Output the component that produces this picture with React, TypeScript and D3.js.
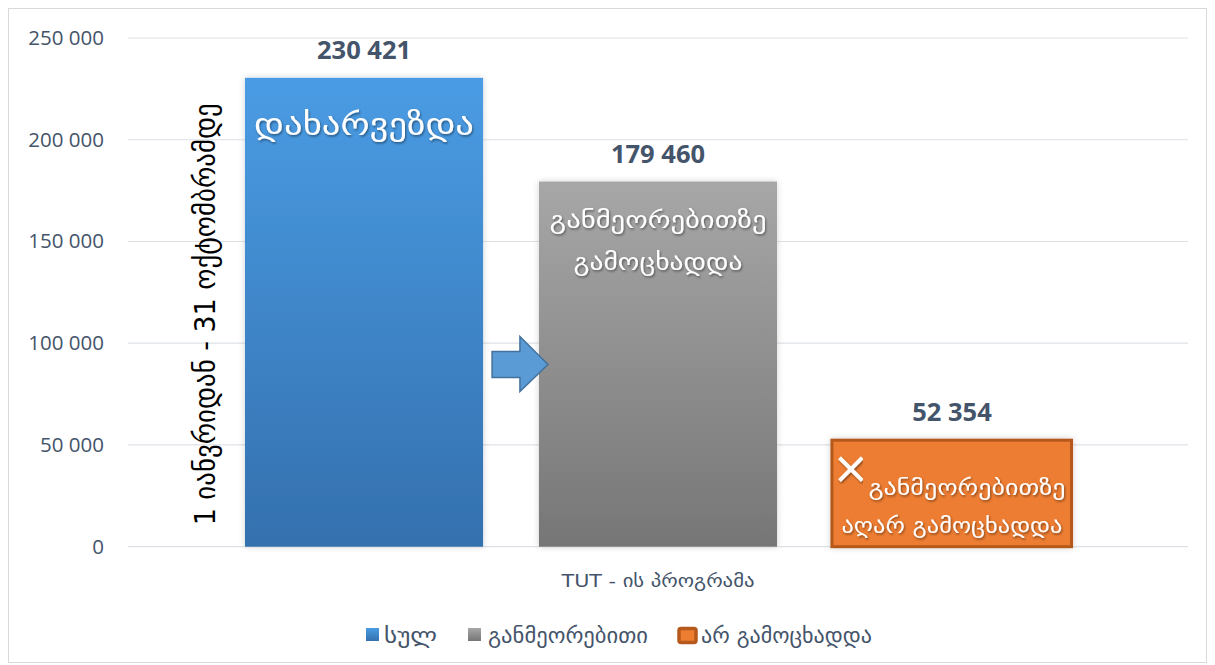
import React from "react";
import * as d3 from "d3";

const categories = ["TUT - ის პროგრამა"];
const seriesNames = ["სულ", "განმეორებითი", "არ გამოცხადდა"];
const seriesValues = [230421, 179460, 52354];
const yTicks = [0, 50000, 100000, 150000, 200000, 250000];
const barTexts = [
  ["დახარვეზდა"],
  ["განმეორებითზე", "გამოცხადდა"],
  ["განმეორებითზე", "აღარ გამოცხადდა"],
];
const sideNote = "1 იანვრიდან - 31 ოქტომბრამდე";
const arrowValue = 89500;

const W = 1215;
const H = 665;
const M = { left: 128, right: 27, top: 38, bottom: 118 };
const NUM_FONT = "'Open Sans', 'Noto Sans', 'DejaVu Sans', sans-serif";
const GEO_FONT = "'DejaVu Sans', 'Noto Sans', sans-serif";
const TXT = "#44546a";

const fmt = (v: number) => d3.format(",")(v).replace(/,/g, " ");

export default function App() {
  const y = d3.scaleLinear().domain([0, 250000]).range([H - M.bottom - 0.3, M.top]);
  const x0 = d3
    .scaleBand<string>()
    .domain(categories)
    .range([M.left, W - M.right])
    .paddingInner(0)
    .paddingOuter(0.1416);
  const x1 = d3
    .scaleBand<string>()
    .domain(seriesNames)
    .range([0, x0.bandwidth()])
    .paddingInner(0.19)
    .paddingOuter(0);
  const bw = x1.bandwidth();
  const gx = x0(categories[0])!;
  const bx = (i: number) => gx + x1(seriesNames[i])!;

  const ax0 = bx(0) + bw + 9;
  const axTip = bx(1) + 9;
  const axHead = axTip - 28;
  const ay = y(arrowValue);
  const arrow = d3.path();
  arrow.moveTo(ax0, ay - 13);
  arrow.lineTo(axHead, ay - 13);
  arrow.lineTo(axHead, ay - 28);
  arrow.lineTo(axTip, ay);
  arrow.lineTo(axHead, ay + 27);
  arrow.lineTo(axHead, ay + 13);
  arrow.lineTo(ax0, ay + 13);
  arrow.closePath();

  const innerLayouts = [
    { size: 31, first: 57, gap: 0, widths: [220] },
    { size: 24, first: 46, gap: 42, widths: [217, 169] },
    { size: 22, first: 55, gap: 38, widths: [197, 221] },
  ];

  const legendItems = [
    { sq: 366, tx: 384, w: 53 },
    { sq: 468, tx: 488, w: 160 },
    { sq: 678, tx: 701, w: 171 },
  ];

  return (
    <div style={{ position: "absolute", left: 0, top: 0 }}>
      <svg width={W} height={H} style={{ display: "block" }}>
        <defs>
          <linearGradient id="gBlue" x1="0" y1="0" x2="0" y2="1">
            <stop offset="0" stopColor="#4a9ce4" />
            <stop offset="1" stopColor="#3470ae" />
          </linearGradient>
          <linearGradient id="gGray" x1="0" y1="0" x2="0" y2="1">
            <stop offset="0" stopColor="#a7a7a7" />
            <stop offset="1" stopColor="#767676" />
          </linearGradient>
          <filter id="barShadow" x="-10%" y="-10%" width="120%" height="120%">
            <feDropShadow dx="0" dy="0" stdDeviation="3" floodColor="#000" floodOpacity="0.18" />
          </filter>
          <filter id="txtShadow" x="-10%" y="-30%" width="120%" height="160%">
            <feDropShadow dx="1" dy="1.5" stdDeviation="1" floodColor="#000" floodOpacity="0.45" />
          </filter>
        </defs>
        <rect x={0} y={0} width={W} height={H} fill="#fff" />
        <rect x={8.5} y={8.5} width={1198} height={654} fill="none" stroke="#d9d9d9" strokeWidth={1} />

        {yTicks.map((t) => (
          <g key={t}>
            <line x1={M.left} x2={W - M.right} y1={y(t)} y2={y(t)} stroke="#dde1e6" strokeWidth={1.2} />
            <text
              x={104}
              y={y(t) + 7}
              textAnchor="end"
              fontFamily={NUM_FONT}
              fontSize={20.5}
              fill={TXT}
            >
              {fmt(t)}
            </text>
          </g>
        ))}

        {seriesValues.map((v, i) => {
          const top = y(v);
          const h = y(0) - top;
          if (i === 2) {
            return (
              <rect
                key={i}
                x={bx(i) - 1}
                y={top}
                width={bw + 1.5}
                height={h}
                fill="#ed7d31"
                stroke="#b5591c"
                strokeWidth={3}
                filter="url(#barShadow)"
              />
            );
          }
          return (
            <rect
              key={i}
              x={bx(i)}
              y={top}
              width={bw}
              height={h}
              fill={i === 0 ? "url(#gBlue)" : "url(#gGray)"}
              filter="url(#barShadow)"
            />
          );
        })}

        {seriesValues.map((v, i) => (
          <text
            key={i}
            x={bx(i) + bw / 2}
            y={y(v) - 19}
            textAnchor="middle"
            fontFamily={NUM_FONT}
            fontWeight={700}
            fontSize={25.5}
            fill={TXT}
          >
            {fmt(v)}
          </text>
        ))}

        {barTexts.map((lines, i) => {
          const L = innerLayouts[i];
          const top = y(seriesValues[i]);
          return lines.map((ln, j) => {
            const cx = bx(i) + bw / 2 + (i === 2 && j === 0 ? 15 : 0);
            return (
              <text
                key={i + "-" + j}
                x={cx}
                y={top + L.first + j * L.gap}
                textAnchor="middle"
                fontFamily={GEO_FONT}
                fontSize={L.size}
                fill="#fff"
                textLength={L.widths[j]}
                lengthAdjust="spacingAndGlyphs"
                filter="url(#txtShadow)"
              >
                {ln}
              </text>
            );
          });
        })}
        {(() => {
          const cx = bx(2) + 18;
          const cy = y(seriesValues[2]) + 29;
          return (
            <g stroke="#fff" strokeWidth={4} strokeLinecap="square" filter="url(#txtShadow)">
              <line x1={cx - 10} y1={cy - 10} x2={cx + 10} y2={cy + 10} />
              <line x1={cx + 10} y1={cy - 10} x2={cx - 10} y2={cy + 10} />
            </g>
          );
        })()}

        <path d={arrow.toString()} fill="#5b9bd5" stroke="#41719c" strokeWidth={1.5} />

        <text
          transform={`translate(215, ${(y(0) + y(250000)) / 2 + 22}) rotate(-90)`}
          textAnchor="middle"
          fontFamily={GEO_FONT}
          fontSize={29}
          fill="#000"
          textLength={422}
          lengthAdjust="spacingAndGlyphs"
        >
          {sideNote}
        </text>

        <text
          x={gx + x0.bandwidth() / 2}
          y={587}
          textAnchor="middle"
          fontFamily={GEO_FONT}
          fontSize={18}
          fill={TXT}
          textLength={193}
          lengthAdjust="spacingAndGlyphs"
        >
          {categories[0]}
        </text>

        {seriesNames.map((s, i) => {
          const it = legendItems[i];
          return (
            <g key={s}>
              {i === 0 && <rect x={it.sq} y={628} width={13} height={13} fill="url(#gBlue)" />}
              {i === 1 && <rect x={it.sq} y={628} width={13} height={13} fill="url(#gGray)" />}
              {i === 2 && (
                <rect
                  x={it.sq + 1}
                  y={628.5}
                  width={17}
                  height={14}
                  rx={2}
                  fill="#ed7d31"
                  stroke="#b5591c"
                  strokeWidth={3.5}
                />
              )}
              <text
                x={it.tx}
                y={643}
                fontFamily={GEO_FONT}
                fontSize={21}
                fill={TXT}
                textLength={it.w}
                lengthAdjust="spacingAndGlyphs"
              >
                {s}
              </text>
            </g>
          );
        })}
      </svg>
    </div>
  );
}
